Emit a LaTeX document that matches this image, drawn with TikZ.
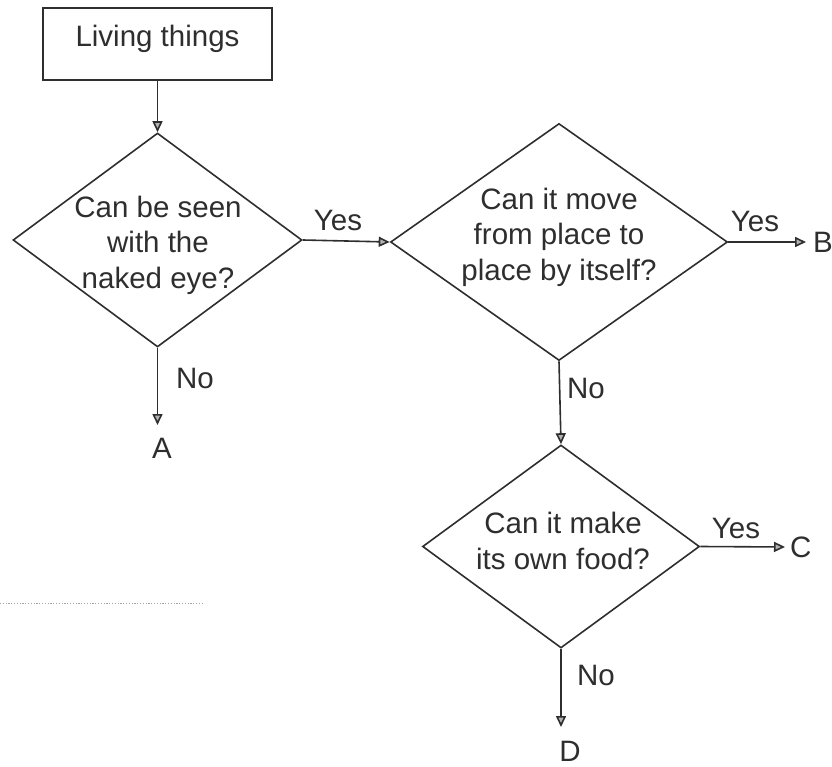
\documentclass[tikz,border=0pt]{standalone}
\usepackage{fontspec}
\setmainfont{Liberation Sans}
\usetikzlibrary{shapes.geometric,arrows.meta}
\definecolor{ink}{gray}{0.18}
\begin{document}
\begin{tikzpicture}[x=1pt,y=-1pt,
  every node/.style={font=\fontsize{29.5}{35.5}\selectfont, text=ink},
  dia/.style={draw=ink, line width=1.6pt, diamond, inner sep=0pt},
  qtext/.style={align=center, inner sep=0pt},
  lab/.style={inner sep=0pt},
  endlab/.style={inner sep=4pt},
  arr/.style={draw=ink, line width=1.6pt, -{Triangle[length=11pt,width=10pt,fill=gray!60]}},
  answerline/.style={draw=gray!70, line width=1pt, dash pattern=on 1.2pt off 1.6pt}]
\useasboundingbox (0,0) rectangle (832,767);

% start box
\node[draw=ink, line width=1.6pt, minimum width=229pt, minimum height=72pt,
      inner sep=0pt, text height=21.5pt, text depth=16pt] (start) at (157.5,44) {Living things};

% decisions
\node[dia, minimum width=289pt, minimum height=214pt] (d1) at (157.5,240) {};
\node[qtext] (t1) at (158,245) {Can be seen\\with the\\naked eye?};

\node[dia, minimum width=337pt, minimum height=237pt] (d2) at (559,242) {};
\node[qtext] (t2) at (559,237) {Can it move\\from place to\\place by itself?};

\node[dia, minimum width=277pt, minimum height=203pt] (d3) at (561,546.5) {};
\node[qtext] (t3) at (563,541) {Can it make\\its own food?};

% end labels
\node[endlab, anchor=north] (A) at (162,434) {A};
\node[endlab, anchor=west] (B) at (809,242) {B};
\node[endlab, anchor=west] (C) at (786,547) {C};
\node[endlab, anchor=north] (D) at (570,737) {D};

% connectors
\draw[arr] (start.south) -- (d1.north);
\draw[arr] (d1.east) -- (d2.west);
\draw[arr, shorten >=3pt] (d2.east) -- (B.west);
\draw[arr, shorten >=9pt] (d1.south) -- (d1.south |- A.north);
\draw[arr] (d2.south) -- (d3.north);
\draw[arr, shorten >=1pt] (d3.east) -- (C.west);
\draw[arr, shorten >=10pt] (d3.south) -- (d3.south |- D.north);

% branch labels
\node[lab] (y1) at (338,220) {Yes};
\node[lab] (y2) at (755,221) {Yes};
\node[lab] (y3) at (736,528) {Yes};
\node[lab] (n1) at (195,378) {No};
\node[lab] (n2) at (586,388) {No};
\node[lab] (n3) at (596,675) {No};

% dotted answer line
\coordinate (lineL) at (0,603);
\coordinate (lineR) at (202,603);
\draw[answerline] (lineL) -- (lineR);
\end{tikzpicture}
\end{document}
